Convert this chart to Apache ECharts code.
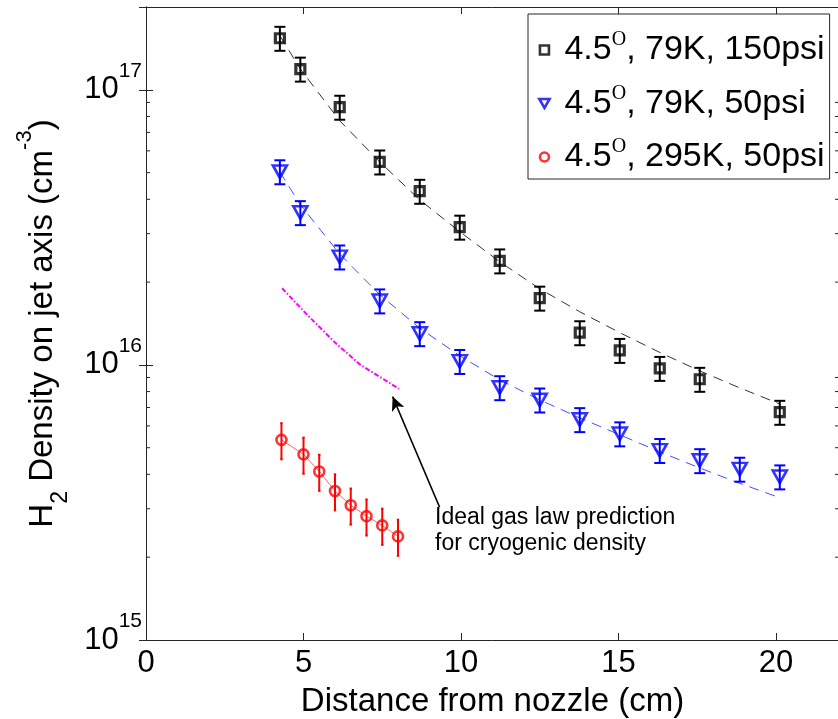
<!DOCTYPE html>
<html>
<head>
<meta charset="utf-8">
<script src="https://cdn.jsdelivr.net/npm/echarts@6/dist/echarts.min.js"></script>
<style>
  html, body { margin: 0; padding: 0; background: #fff; }
  #chart { width: 838px; height: 719px; }
</style>
</head>
<body>
<div id="chart"></div>
<script>
// ---- measured data (distance in cm, density in cm^-3) ----
const xCold150 = [4.25, 4.9, 6.15, 7.42, 8.69, 9.96, 11.23, 12.5, 13.77, 15.04, 16.31, 17.58, 20.12];
const density150 = [1.54e17, 1.19e17, 8.65e16, 5.47e16, 4.28e16, 3.17e16, 2.39e16, 1.75e16, 1.31e16, 1.13e16, 9.72e15, 8.87e15, 6.73e15];

const xCold50 = [4.25, 4.9, 6.15, 7.42, 8.69, 9.96, 11.23, 12.5, 13.77, 15.04, 16.31, 17.58, 18.85, 20.12];
const density50 = [5.04e16, 3.58e16, 2.47e16, 1.71e16, 1.30e16, 1.03e16, 8.27e15, 7.46e15, 6.33e15, 5.62e15, 4.89e15, 4.49e15, 4.18e15, 3.92e15];

const xWarm = [4.3, 5.0, 5.5, 6.0, 6.5, 7.0, 7.5, 8.0];
const densityWarm = [5.34e15, 4.73e15, 4.10e15, 3.48e15, 3.09e15, 2.82e15, 2.61e15, 2.38e15];

// relative error of each data set
const err150 = 0.10;
const err50 = 0.10;
const errWarm = 0.15;

// fitted curves for the cryogenic runs
const xFit = [4.25, 4.9, 6.15, 7.42, 8.69, 9.96, 11.23, 12.5, 13.77, 15.04, 16.31, 17.58, 18.85, 20.12];
const fit150 = [1.572e17, 1.19e17, 7.72e16, 5.47e16, 3.98e16, 3.05e16, 2.37e16, 1.89e16, 1.56e16, 1.31e16, 1.11e16, 9.51e15, 8.25e15, 7.21e15];
const fit50 = [5.03e16, 3.82e16, 2.53e16, 1.80e16, 1.36e16, 1.08e16, 8.82e15, 7.46e15, 6.42e15, 5.57e15, 4.83e15, 4.22e15, 3.71e15, 3.29e15];

// ideal gas law prediction for the cryogenic density
const xIdeal = [4.32, 5.12, 6.02, 6.81, 8.03];
const densityIdeal = [1.90e16, 1.52e16, 1.20e16, 1.00e16, 8.19e15];

// series names
const names = ['4.5°, 79K, 150psi', '4.5°, 79K, 50psi', '4.5°, 295K, 50psi'];

// axes
const xTickLabels = [0, 5, 10, 15, 20];
const yTickExponents = [15, 16, 17];
const yMinorTicks = [2e15, 3e15, 4e15, 5e15, 6e15, 7e15, 8e15, 9e15,
                     2e16, 3e16, 4e16, 5e16, 6e16, 7e16, 8e16, 9e16];
const X_MIN = 0, X_MAX = 22, Y_MIN = 1e15, Y_MAX = 2e17;

// arrow from the note to the prediction curve
const arrowFrom = [9.32, 3.04e15];
const arrowTo = [7.83, 7.67e15];

const FONT = 'Liberation Sans, Arial, sans-serif';
const SQUARE = 'path://M0,0L10,0L10,10L0,10Z';
const TRIANGLE_DOWN = 'path://M0,0L16,0L8,14Z';
const zip = (xs, ys) => xs.map((x, i) => [x, ys[i]]);

function errorBars(xs, ys, frac, color, capHalf, width) {
  return {
    type: 'custom',
    silent: true,
    z: 3,
    encode: { x: 0, y: [1, 2] },
    data: xs.map((x, i) => [x, ys[i] * (1 - frac), ys[i] * (1 + frac)]),
    renderItem(params, api) {
      const lo = api.coord([api.value(0), api.value(1)]);
      const hi = api.coord([api.value(0), api.value(2)]);
      const st = { stroke: color, lineWidth: width };
      return {
        type: 'group',
        children: [
          { type: 'line', shape: { x1: lo[0], y1: lo[1], x2: hi[0], y2: hi[1] }, style: st },
          { type: 'line', shape: { x1: lo[0] - capHalf, y1: lo[1], x2: lo[0] + capHalf, y2: lo[1] }, style: st },
          { type: 'line', shape: { x1: hi[0] - capHalf, y1: hi[1], x2: hi[0] + capHalf, y2: hi[1] }, style: st }
        ]
      };
    }
  };
}

// short minor ticks on both log axes
const minorTickSeries = {
  type: 'custom',
  silent: true,
  z: 5,
  clip: false,
  data: yMinorTicks.map(v => [X_MIN, v]),
  renderItem(params, api) {
    const l = api.coord([X_MIN, api.value(1)]);
    const r = api.coord([X_MAX, api.value(1)]);
    const st = { stroke: '#262626', lineWidth: 1 };
    return {
      type: 'group',
      children: [
        { type: 'line', shape: { x1: l[0], y1: l[1], x2: l[0] + 4, y2: l[1] }, style: st },
        { type: 'line', shape: { x1: r[0] - 4, y1: r[1], x2: r[0], y2: r[1] }, style: st }
      ]
    };
  }
};

const axisLineStyle = { lineStyle: { color: '#262626', width: 1 } };
const majorTick = { inside: true, length: 7, lineStyle: { color: '#262626' } };

const chart = echarts.init(document.getElementById('chart'), null, { renderer: 'canvas' });
chart.setOption({
  animation: false,
  backgroundColor: '#fff',
  grid: { left: 146, top: 7, width: 693, height: 633, containLabel: false, outerBoundsMode: 'none' },
  xAxis: [{
    type: 'value', min: X_MIN, max: X_MAX, interval: 5,
    position: 'bottom',
    axisLine: axisLineStyle,
    axisTick: majorTick,
    splitLine: { show: false },
    axisLabel: {
      margin: 8, fontSize: 31, fontFamily: FONT, color: '#000',
      showMaxLabel: false,
      formatter: v => (xTickLabels.includes(v) ? String(v) : '')
    },
    name: 'Distance from nozzle (cm)',
    nameLocation: 'middle', nameGap: 45,
    nameTextStyle: { fontSize: 33, fontFamily: FONT, color: '#000' }
  }, {
    type: 'value', min: X_MIN, max: X_MAX, interval: 5,
    position: 'top',
    axisLine: axisLineStyle,
    axisTick: majorTick,
    axisLabel: { show: false },
    splitLine: { show: false }
  }],
  yAxis: [{
    type: 'log', logBase: 10, min: Y_MIN, max: Y_MAX,
    position: 'left',
    axisLine: axisLineStyle,
    axisTick: majorTick,
    splitLine: { show: false },
    minorTick: { show: false },
    axisLabel: {
      margin: 4, fontFamily: FONT, color: '#000',
      formatter: v => {
        const e = Math.round(Math.log10(v));
        if (Math.abs(Math.log10(v) - e) > 1e-6 || !yTickExponents.includes(e)) return '';
        return '{b|10}{s|' + e + '}';
      },
      rich: {
        b: { fontSize: 31, fontFamily: FONT, color: '#000', lineHeight: 58 },
        s: { fontSize: 21, fontFamily: FONT, color: '#000', lineHeight: 22, verticalAlign: 'top' }
      }
    },
    name: 'H{sub|2} Density on jet axis (cm{sup|-3})',
    nameLocation: 'middle', nameGap: 74, nameRotate: 90,
    nameMoveOverlap: false,
    nameTextStyle: {
      fontSize: 33, fontFamily: FONT, color: '#000', lineHeight: 58,
      rich: {
        sub: { fontSize: 23, fontFamily: FONT, color: '#000', lineHeight: 26, verticalAlign: 'bottom' },
        sup: { fontSize: 22, fontFamily: FONT, color: '#000', lineHeight: 26, verticalAlign: 'top' }
      }
    }
  }, {
    type: 'log', logBase: 10, min: Y_MIN, max: Y_MAX,
    position: 'right',
    axisLine: axisLineStyle,
    axisTick: majorTick,
    axisLabel: { show: false },
    splitLine: { show: false }
  }],
  legend: {
    orient: 'vertical', left: 528, top: 14,
    padding: [16, 5, 2, 10], itemGap: 13.5,
    itemWidth: 30, itemHeight: 9,
    backgroundColor: '#fff', borderColor: '#262626', borderWidth: 1, borderRadius: 0,
    itemStyle: { borderWidth: 2.6 },
    data: names,
    formatter: n => n.replace('°', '{o|O}'),
    textStyle: {
      fontSize: 34, fontFamily: FONT, color: '#000', lineHeight: 40,
      rich: { o: { fontSize: 20, fontFamily: 'Liberation Serif, serif', color: '#000', lineHeight: 24, verticalAlign: 'top' } }
    }
  },
  graphic: [{
    type: 'text', left: 435, top: 505, silent: true,
    style: {
      text: 'Ideal gas law prediction\nfor cryogenic density',
      fontSize: 23, fontFamily: FONT, fill: '#000', lineHeight: 26
    }
  }],
  series: [
    // fitted curves
    { type: 'line', data: zip(xFit, fit150), showSymbol: false, silent: true, z: 2,
      lineStyle: { color: '#333', width: 1, type: [10, 7] } },
    { type: 'line', data: zip(xFit, fit50), showSymbol: false, silent: true, z: 2,
      lineStyle: { color: '#4a4aff', width: 1, type: [10, 7] } },
    // thin line joining the room-temperature points
    { type: 'line', data: zip(xWarm, densityWarm), showSymbol: false, silent: true, z: 2,
      lineStyle: { color: '#ff4040', width: 0.8 } },
    // ideal gas prediction with its pointer
    { type: 'line', data: zip(xIdeal, densityIdeal), showSymbol: false, silent: true, z: 2,
      lineStyle: { color: '#ff00ff', width: 2, type: [5, 2, 1.5, 2] },
      markLine: {
        silent: true, symbol: ['none', 'arrow'], symbolSize: [10, 14],
        label: { show: false },
        lineStyle: { color: '#000', width: 1.5, type: 'solid' },
        data: [[{ coord: arrowFrom }, { coord: arrowTo }]]
      } },
    // error bars
    errorBars(xCold150, density150, err150, '#000', 5.5, 2),
    errorBars(xCold50, density50, err50, '#0000ff', 5.5, 2),
    errorBars(xWarm, densityWarm, errWarm, '#ff0000', 1.2, 2),
    // markers
    { name: names[0], type: 'scatter', data: zip(xCold150, density150), z: 4,
      symbol: SQUARE, symbolSize: 9, legendIcon: SQUARE,
      itemStyle: { color: 'rgba(0,0,0,0)', borderColor: '#000', borderWidth: 3.2 } },
    { name: names[1], type: 'scatter', data: zip(xCold50, density50), z: 4,
      symbol: TRIANGLE_DOWN, symbolSize: [14, 12.5], symbolKeepAspect: false,
      legendIcon: 'path://M0,0L16,0L8,10Z',
      itemStyle: { color: 'rgba(0,0,0,0)', borderColor: '#0000ff', borderWidth: 2.6 } },
    { name: names[2], type: 'scatter', data: zip(xWarm, densityWarm), z: 4,
      symbol: 'circle', symbolSize: 10,
      itemStyle: { color: 'rgba(0,0,0,0)', borderColor: '#ff0000', borderWidth: 2.6 } },
    minorTickSeries
  ]
});
</script>
</body>
</html>
